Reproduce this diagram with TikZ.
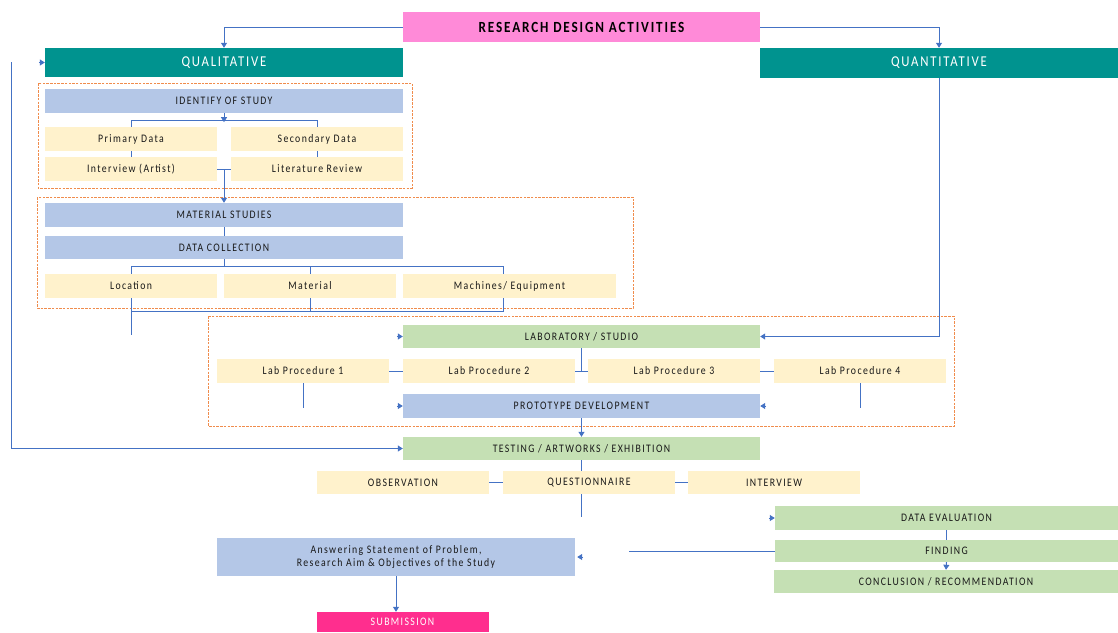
\documentclass[tikz,border=0pt]{standalone}
\usepackage{xcolor}
\usepackage{fontspec}
\usepackage{tikz}
\usetikzlibrary{arrows.meta}

\setmainfont{Carlito}[FakeStretch=0.85, LetterSpace=12]
\newcommand{\boxfont}{\fontsize{11.5}{13.5}\selectfont}
\newcommand{\headfont}{\fontsize{15}{17}\selectfont}
\newcommand{\bannerfont}{\bfseries\fontsize{15.5}{17}\selectfont}

\definecolor{respink}{HTML}{FF8AD8}
\definecolor{headteal}{HTML}{00938F}
\definecolor{boxblue}{HTML}{B4C7E7}
\definecolor{boxcream}{HTML}{FFF2CC}
\definecolor{boxgreen}{HTML}{C5E0B4}
\definecolor{subpink}{HTML}{FF2E8E}
\definecolor{linkblue}{HTML}{4472C4}
\definecolor{frameorange}{HTML}{F08C4C}

\tikzset{
  box/.style={rectangle, inner sep=0pt, text=black!90, font=\boxfont},
  headbox/.style={box, fill=headteal, text=white, font=\headfont},
  bluebox/.style={box, fill=boxblue},
  creambox/.style={box, fill=boxcream},
  greenbox/.style={box, fill=boxgreen},
  wide/.style={minimum width=357pt, minimum height=24pt},
  half/.style={minimum width=172pt, minimum height=24pt},
  link/.style={draw=linkblue, line width=1pt},
  arr/.style={link, -{Triangle[width=6pt,length=5pt]}},
  frame/.style={draw=frameorange, line width=0.9pt, dash pattern=on 2.5pt off 1.2pt}
}

\begin{document}
\begin{tikzpicture}[x=1pt, y=-1pt]
    \useasboundingbox (0,0) rectangle (1118,632);

    % dashed groups
    \draw[frame] (38,83) rectangle (412,188);
    \draw[frame] (37,197) rectangle (633,308);
    \draw[frame] (208,316) rectangle (954,426);

    % top
    \node[box, fill=respink, text=black, font=\bannerfont, minimum width=357pt, minimum height=30pt] (research) at (581.5,27) {RESEARCH DESIGN ACTIVITIES};
    \node[headbox, wide, minimum width=358pt, minimum height=29pt] (quali) at (224,62.5) {QUALITATIVE};
    \node[headbox, wide, minimum width=358pt, minimum height=30pt] (quanti) at (939,63) {QUANTITATIVE};

    % qualitative side
    \node[bluebox, wide, minimum width=358pt] (identify) at (224,101) {IDENTIFY OF STUDY};
    \foreach \n/\x/\y/\w in {primary/131/139/Primary Data, secondary/317/139/Secondary Data, interview/131/169/Interview (Artist), literature/317/169/Literature Review}{
        \node[creambox, half] (\n) at (\x,\y) {\w};
    }
    \node[bluebox, wide, minimum width=358pt] (matstudy) at (224,215) {MATERIAL STUDIES};
    \node[bluebox, wide, minimum width=358pt, minimum height=23pt] (datacoll) at (224,247.5) {DATA COLLECTION};
    \node[creambox, half] (location) at (131,286) {Location};
    \node[creambox, half] (material) at (310,286) {Material};
    \node[creambox, half, minimum width=213pt] (machines) at (509.5,286) {Machines/ Equipment};

    % laboratory
    \node[greenbox, wide, minimum height=23pt] (lab) at (581.5,336.5) {LABORATORY / STUDIO};
    \foreach \i/\x in {1/303, 2/489, 3/674, 4/860}{
        \node[creambox, half] (lab\i) at (\x,371) {Lab Procedure \i};
    }
    \node[bluebox, wide] (proto) at (581.5,406) {PROTOTYPE DEVELOPMENT};

    % testing
    \node[greenbox, wide, minimum height=23pt] (testing) at (581.5,448.5) {TESTING / ARTWORKS / EXHIBITION};
    \foreach \n/\x/\w in {observe/403/OBSERVATION, quest/589/QUESTIONNAIRE, interv/774/INTERVIEW}{
        \node[creambox, half, minimum height=23pt] (\n) at (\x,482.5) {\w};
    }

    % evaluation
    \node[greenbox, minimum width=343pt, minimum height=24pt] (evaluate) at (946.5,518) {DATA EVALUATION};
    \node[greenbox, minimum width=343pt, minimum height=22pt] (finding) at (946.5,551) {FINDING};
    \node[greenbox, minimum width=344pt, minimum height=23pt] (conclude) at (946,581.5) {CONCLUSION / RECOMMENDATION};
    \node[bluebox, minimum width=358pt, minimum height=38pt, align=center] (answer) at (396,557) {Answering Statement of Problem,\\Research Aim \& Objectives of the Study};
    \node[box, half, fill=subpink, text=white, minimum height=20pt] (submit) at (402.5,622) {SUBMISSION};

    % connectors
    \coordinate (loop) at (11,62);
    \path[arr] (research.west) -| (quali.north);
    \path[arr] (research.east) -| (quanti.north);
    \path[arr] (quanti.south) |- (lab.east);
    \path[arr] (loop) |- (testing.west);
    \path[arr] ([xshift=-6pt]quali.west) -- (quali.west);

    \path[arr] (identify.south) -- ++(0,9);
    \path[link] (primary.north) -- ++(0,-6) -| (secondary.north);
    \path[link] (primary.south) -- (interview.north);
    \path[link] (secondary.south) -- (literature.north);
    \path[link] (interview.east) -- (literature.west);
    \path[arr] (matstudy.north |- interview.east) -- (matstudy.north);
    \path[link] (matstudy.south) -- (datacoll.north);
    \path[link] (datacoll.south) -- ++(0,8);
    \path[link] (location.north) -- ++(0,-7) -| ([xshift=-6.5pt]machines.north);
    \path[link] (material.north) -- ++(0,-7);
    \path[link] (location.south) -- ++(0,37);
    \path[link] (location.south) ++(0,13) -| ([xshift=-6.5pt]machines.south);
    \path[link] (material.south) -- ++(0,13);

    \path[arr] ([xshift=-6pt]lab.west) -- (lab.west);
    \path[link] (lab.south) -- (lab.south |- lab2.east);
    \path[link] (lab1.east) -- (lab2.west);
    \path[link] (lab2.east) -- (lab3.west);
    \path[link] (lab3.east) -- (lab4.west);
    \path[link] (lab1.south) -- ++(0,25);
    \path[link] (lab4.south) -- ++(0,25);
    \path[arr] ([xshift=-6pt]proto.west) -- (proto.west);
    \path[arr] ([xshift=6pt]proto.east) -- (proto.east);
    \path[arr] (proto.south) -- (testing.north);

    \path[link] (testing.south) -- (testing.south |- quest.north);
    \path[link] (testing.south |- quest.south) -- ++(0,23);
    \path[link] (observe.east) -- (quest.west);
    \path[link] (quest.east) -- (interv.west);

    \path[arr] ([xshift=-6pt]evaluate.west) -- (evaluate.west);
    \path[link] (evaluate.south) -- (finding.north);
    \path[arr] (finding.south) -- (conclude.north);
    \path[link] (finding.west) -- ++(-146,0);
    \path[arr] ([xshift=8pt]answer.east) -- ([xshift=2pt]answer.east);
    \path[arr] (answer.south) -- (answer.south |- submit.north);
\end{tikzpicture}
\end{document}
